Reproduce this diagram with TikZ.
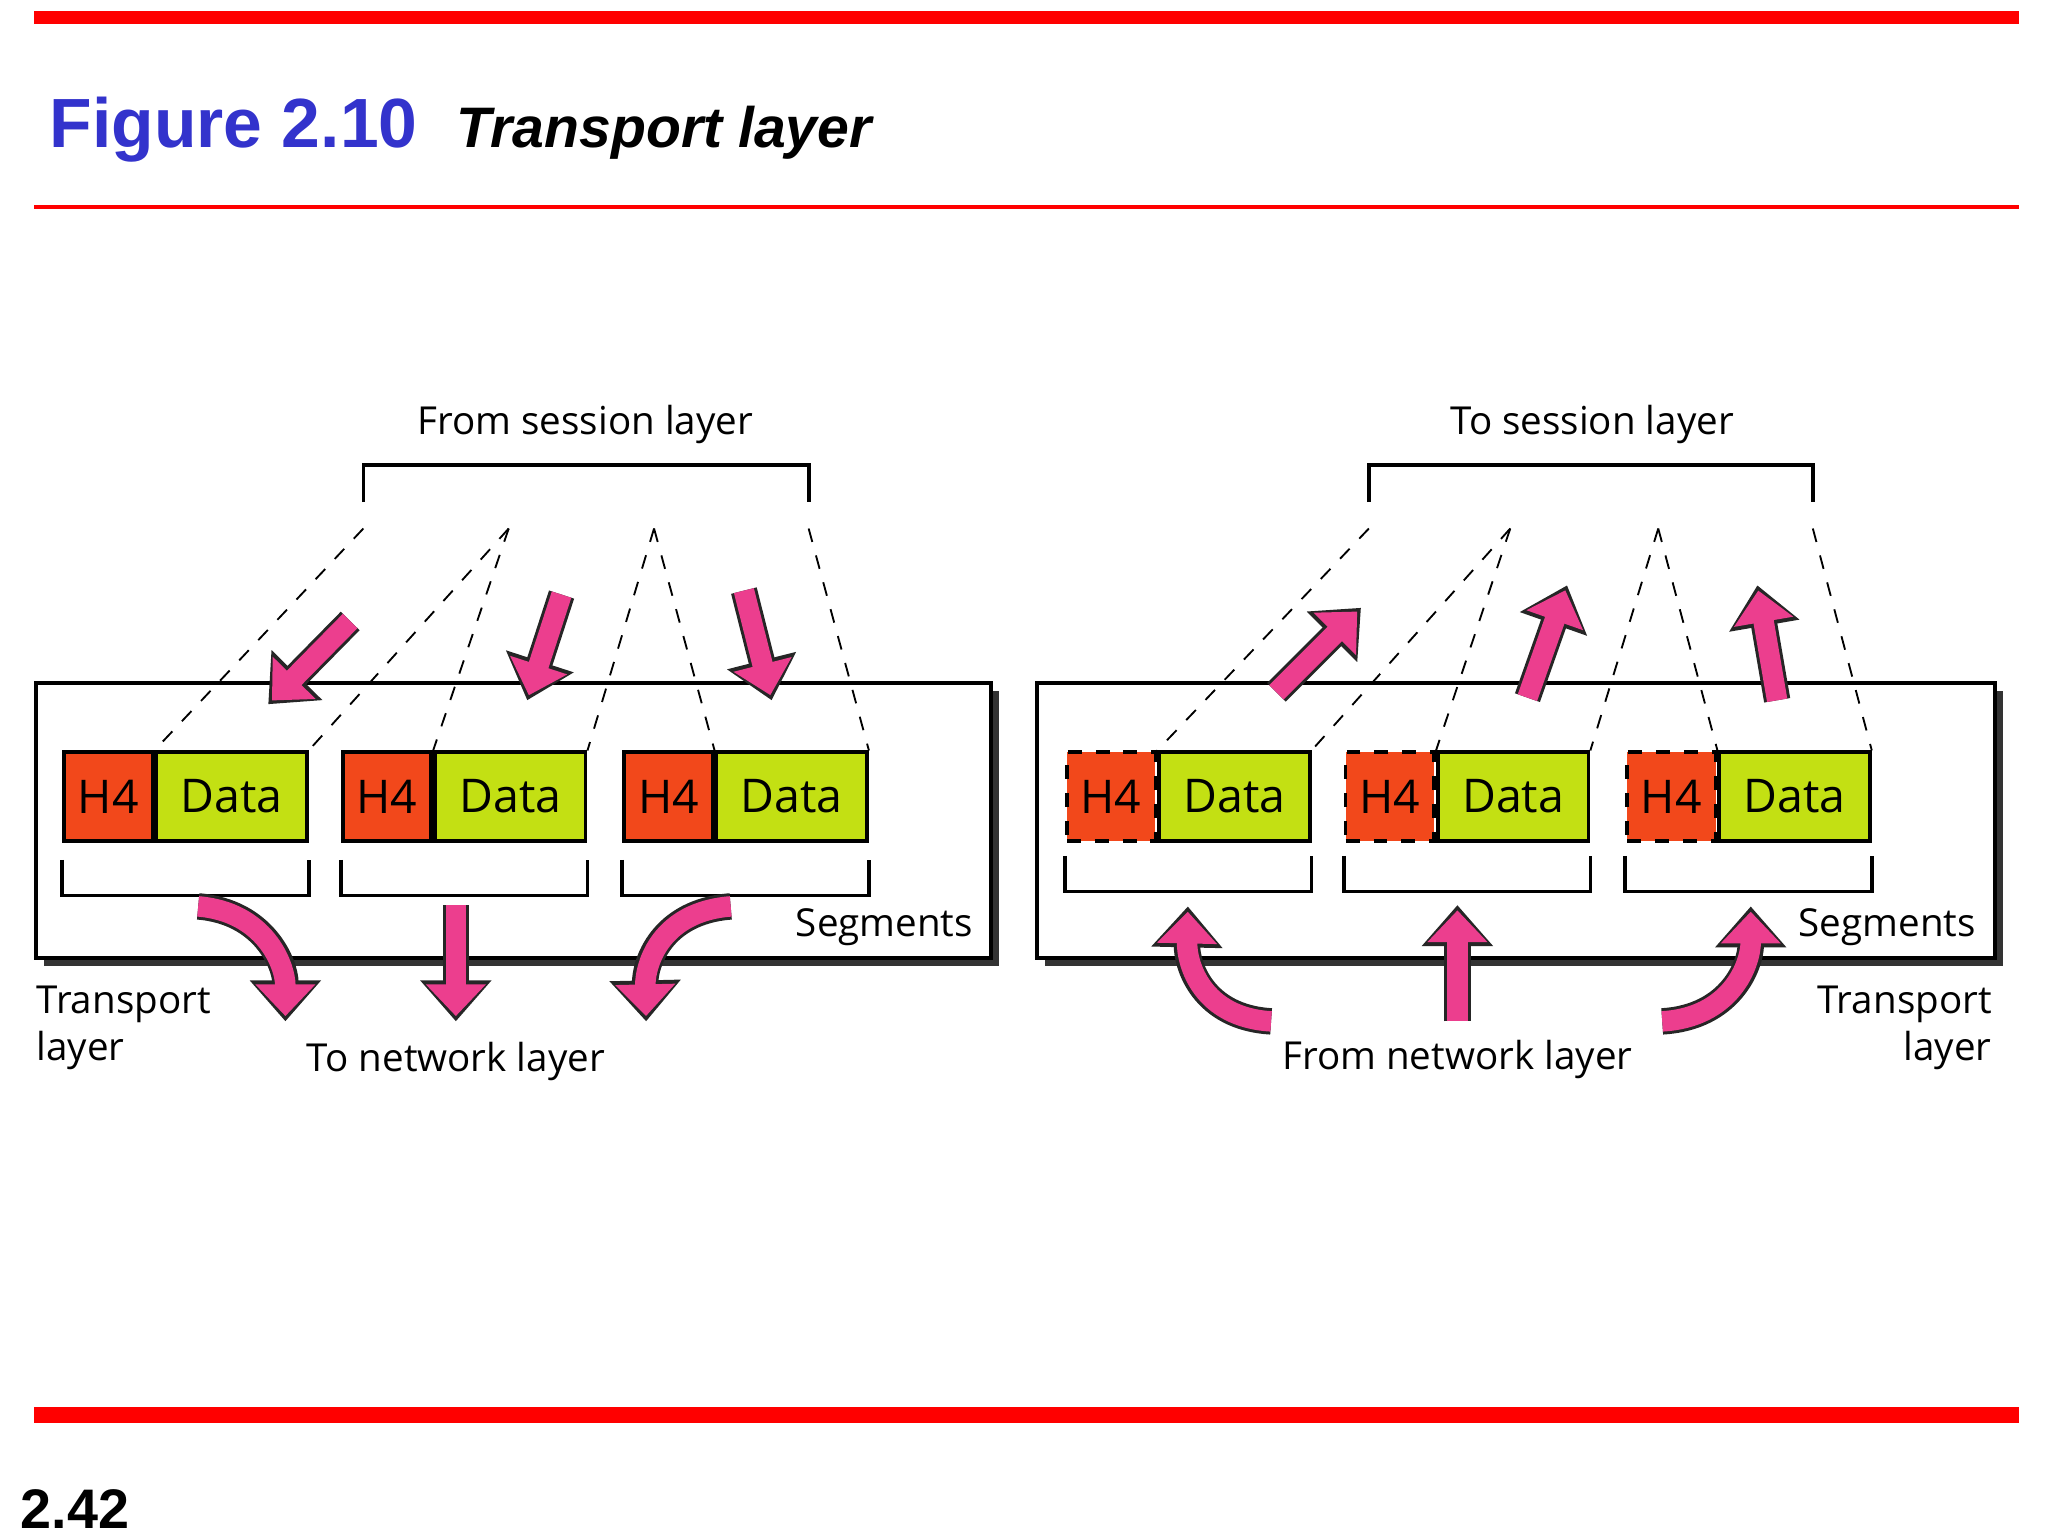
\documentclass[tikz,border=0pt]{standalone}
\usepackage{fontspec}
\setmainfont{Liberation Sans}
\newfontfamily\diagfont{Open Sans}
\usetikzlibrary{arrows.meta}
\definecolor{hdrred}{HTML}{F2481B}
\definecolor{datagreen}{HTML}{C3E013}
\definecolor{arrowpink}{HTML}{EC3E8E}
\definecolor{titleblue}{HTML}{3333CC}
\tikzset{
  hdr/.style={draw=black, thick, fill=hdrred, minimum width=6.7mm, minimum height=6.7mm, inner sep=0pt, anchor=north west},
  dat/.style={draw=black, thick, fill=datagreen, minimum width=11.4mm, minimum height=6.7mm, inner sep=0pt, anchor=west},
  lbl/.style={font=\diagfont\fontsize{8.3}{10}\selectfont, inner sep=0pt},
  fatout/.style={line width=2mm, draw=black!85, -{Triangle[length=3.1mm,width=5.2mm]}},
  fatin/.style={line width=1.55mm, draw=arrowpink, shorten >=0.4mm, -{Triangle[length=2.4mm,width=4.4mm]}},
  gap/.style={dashed, thin}
}
\newcommand\fatarrow[1]{\draw[fatout] #1; \draw[fatin] #1;}
\begin{document}
\begin{tikzpicture}[x=0.1mm, y=-0.1mm]
  \useasboundingbox (0,0) rectangle (1550,1163);
  % frame of the slide
  \fill[red] (26,8) rectangle (1528,18);
  \fill[red] (26,155) rectangle (1528,158);
  \fill[red] (26,1065) rectangle (1528,1077);
  \node[anchor=base west, inner sep=0pt, text=titleblue, font=\fontsize{15}{18}\selectfont\bfseries] (fig) at (37,112) {Figure 2.10};
  \node[anchor=base west, inner sep=0pt, font=\fontsize{12.3}{15}\selectfont\bfseries\itshape] (ttl) at (345,112) {Transport layer};
  \node[anchor=base west, inner sep=0pt, font=\fontsize{12}{14}\selectfont\bfseries] (pg) at (15,1157) {2.42};

  % sender side
  \fill[black!80] (33,523) rectangle (756,731);
  \draw[thick, fill=white] (27,517) rectangle (750,725);
  \foreach \i/\x in {1/47, 2/258, 3/471} {
    \node[hdr] (lh\i) at (\x,568) {\diagfont H4};
    \node[dat] (ld\i) at (lh\i.east) {\diagfont Data};
    \draw[thick] ([yshift=-1.3mm]lh\i.south west) -- ++(0,27) -| ([yshift=-1.3mm]ld\i.south east);
  }
  \coordinate (ls1) at (275,400);
  \coordinate (ls2) at (385,400);
  \coordinate (ls3) at (495,400);
  \coordinate (ls4) at (612,400);
  \draw[thick] ([yshift=2mm]ls1) -- ++(0,-28) -| ([yshift=2mm]ls4);
  \node[lbl] (from) at (443,321) {From session layer};
  \draw[gap] (ls1) -- (ld1.north west);
  \draw[gap] (ls2) -- (ld1.north east);
  \draw[gap] (ls2) -- (ld2.north west);
  \draw[gap] (ls3) -- (ld2.north east);
  \draw[gap] (ls3) -- (ld3.north west);
  \draw[gap] (ls4) -- (ld3.north east);
  \fatarrow{(265,470) -- (203,533)}
  \fatarrow{(425,450) -- (399,530)}
  \fatarrow{(563,447) -- (584,530)}
  \fatarrow{(150,686) .. controls (200,690) and (216,730) .. (216,773)}
  \fatarrow{(345,685) -- (345,773)}
  \fatarrow{(553,686) .. controls (500,690) and (488,730) .. (489,773)}
  \node[lbl, anchor=east] (lseg) at (737,702) {Segments};
  \node[lbl, anchor=west, align=left] (ltl) at (27,778) {Transport\\layer};
  \node[lbl] (tonet) at (345,803) {To network layer};

  % receiver side
  \fill[black!80] (791,523) rectangle (1516,731);
  \draw[thick, fill=white] (785,517) rectangle (1510,725);
  \foreach \i/\x in {1/806, 2/1017, 3/1230} {
    \node[hdr, dashed] (rh\i) at (\x,568) {\diagfont H4};
    \node[dat] (rd\i) at (rh\i.east) {\diagfont Data};
    \draw[thick] ([yshift=-1mm]rh\i.south west) -- ++(0,27) -| ([yshift=-1mm]rd\i.south east);
  }
  \coordinate (rs1) at (1036,400);
  \coordinate (rs2) at (1143,400);
  \coordinate (rs3) at (1255,400);
  \coordinate (rs4) at (1372,400);
  \draw[thick] ([yshift=2mm]rs1) -- ++(0,-28) -| ([yshift=2mm]rs4);
  \node[lbl] (to) at (1205,321) {To session layer};
  \draw[gap] (rs1) -- (rd1.north west);
  \draw[gap] (rs2) -- (rd1.north east);
  \draw[gap] (rs2) -- (rd2.north west);
  \draw[gap] (rs3) -- (rd2.north east);
  \draw[gap] (rs3) -- (rd3.north west);
  \draw[gap] (rs4) -- (rd3.north east);
  \fatarrow{(966,524) -- (1030,460)}
  \fatarrow{(1156,528) -- (1186,443)}
  \fatarrow{(1345,530) -- (1330,443)}
  \fatarrow{(962,773) .. controls (910,770) and (898,730) .. (899,686)}
  \fatarrow{(1103,773) -- (1103,685)}
  \fatarrow{(1258,773) .. controls (1310,770) and (1325,730) .. (1325,686)}
  \node[lbl, anchor=east] (rseg) at (1496,702) {Segments};
  \node[lbl, anchor=east, align=right] (rtl) at (1508,778) {Transport\\layer};
  \node[lbl] (fromnet) at (1103,802) {From network layer};
\end{tikzpicture}
\end{document}
